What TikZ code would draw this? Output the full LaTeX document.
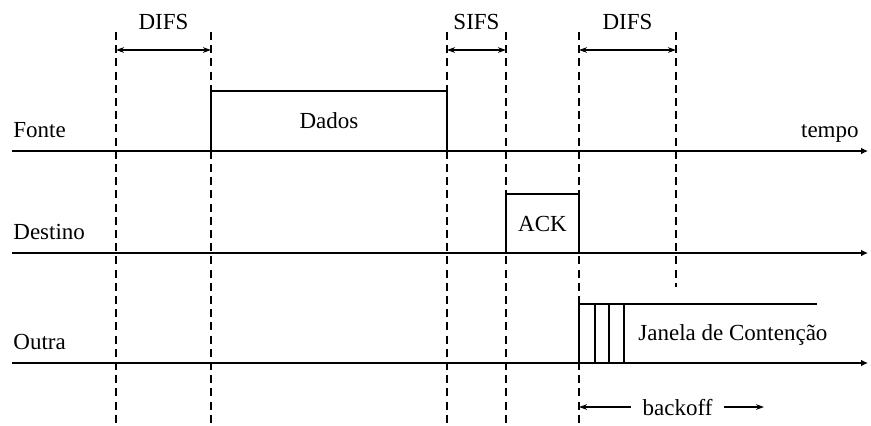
\documentclass[tikz,border=0pt]{standalone}
\usepackage{fontspec}
\setmainfont{Liberation Serif}
\usetikzlibrary{arrows.meta,positioning}
\tikzset{
  ax/.style={-{Latex[length=3.5pt,width=3.4pt]},line width=0.9pt},
  dl/.style={dash pattern=on 4pt off 2.6pt,line width=0.6pt},
  ar/.style={{Stealth[length=4pt,width=2.8pt]}-{Stealth[length=4pt,width=2.8pt]},line width=0.6pt},
  fr/.style={line width=0.7pt},
  lb/.style={font=\fontsize{11.5}{13}\selectfont,inner sep=0pt},
  box/.style={draw,fr,lb,inner sep=0pt}
}
\begin{document}
\begin{tikzpicture}[x=0.5pt,y=-0.5pt]
\useasboundingbox (0,0) rectangle (871,425);
\foreach \n/\x/\b in {1/116/425,2/211/425,3/447/425,4/506/425,5/579/425,6/676/287}{
  \coordinate (t\n) at (\x,32);
  \coordinate (b\n) at (\x,\b);
  \coordinate (m\n) at (\x,50);
  \draw[dl] (t\n) -- (b\n);
}
\foreach \n/\y/\t in {fonte/151/Fonte,destino/253/Destino,outra/363/Outra}{
  \coordinate (\n0) at (12,\y);
  \coordinate (\n1) at (868,\y);
  \draw[ax] (\n0) -- (\n1);
  \node[lb,anchor=base west] (l\n) at (13,\y-14) {\t};
}
\node[lb,anchor=base east] (tempo) at (859,137) {tempo};
\draw[ar] (m1) -- node[lb,above=10pt] (difs1) {DIFS} (m2);
\draw[ar] (m3) -- node[lb,above=10pt] (sifs) {SIFS} (m4);
\draw[ar] (m5) -- node[lb,above=10pt] (difs2) {DIFS} (m6);
\node[box,minimum width=118pt,minimum height=30pt] (dados) at (329,121) {Dados};
\node[box,minimum width=36.5pt,minimum height=29.5pt] (ack) at (542.5,223.5) {ACK};
\draw[fr] (579,363) |- (817,304);
\foreach \x in {595,609,624}{\draw[fr] (\x,304) -- (\x,363);}
\node[lb,anchor=base west] (janela) at (638,340) {Janela de Contenção};
\coordinate (k0) at (579,407);
\coordinate (k1) at (764,407);
\draw[ar] (k0) -- node[lb,fill=white,inner xsep=6pt,xshift=3pt] (backoff) {backoff} (k1);
\end{tikzpicture}
\end{document}
